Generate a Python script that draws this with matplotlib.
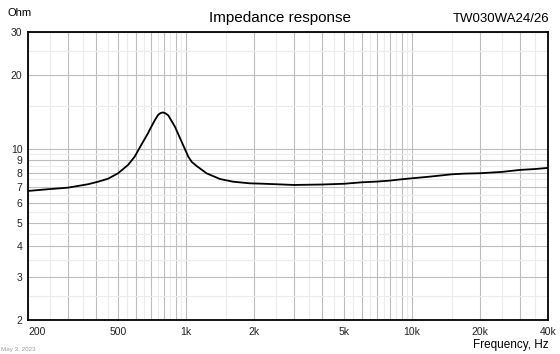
import matplotlib
matplotlib.use("Agg")
import matplotlib.pyplot as plt
from matplotlib.ticker import FixedLocator, NullFormatter

plt.rcParams["font.family"] = ["Liberation Sans", "DejaVu Sans"]

# impedance curve (Hz, Ohm)
freq = [200, 245, 300, 369, 408, 452, 500, 554, 593, 634, 679, 693, 729,
        752, 770, 789, 810, 835, 894, 957, 1024, 1060, 1115, 1235, 1415,
        1619, 1920, 2126, 2500, 3000, 4000, 5000, 6000, 7000, 8000, 9000,
        10000, 12000, 15000, 17000, 20000, 25000, 30000, 35000, 40000]
impedance = [6.73, 6.84, 6.94, 7.17, 7.34, 7.55, 7.94, 8.59, 9.29, 10.37,
             11.57, 12.02, 13.11, 13.74, 13.98, 14.08, 13.98, 13.7, 12.31,
             10.69, 9.29, 8.85, 8.51, 7.94, 7.53, 7.34, 7.23, 7.21, 7.17,
             7.12, 7.15, 7.2, 7.3, 7.35, 7.42, 7.51, 7.58, 7.7, 7.87, 7.92,
             7.95, 8.05, 8.2, 8.27, 8.36]

x_ticks = [200, 500, 1000, 2000, 5000, 10000, 20000, 40000]
x_labels = ["200", "500", "1k", "2k", "5k", "10k", "20k", "40k"]
y_ticks = [2, 3, 4, 5, 6, 7, 8, 9, 10, 20, 30]
y_labels = [str(v) for v in y_ticks]

# grid positions: 1..9 per decade, light lines at the half steps
x_major = [m * d for d in (100, 1000, 10000) for m in range(1, 10) if 200 <= m * d <= 40000]
x_minor = [(m + 0.5) * d for d in (100, 1000, 10000) for m in range(1, 10) if 200 <= (m + 0.5) * d < 40000]
y_major = [m * d for d in (1, 10) for m in range(1, 10) if 2 <= m * d <= 30]
y_minor = [(m + 0.5) * d for d in (1, 10) for m in range(1, 10) if 2 <= (m + 0.5) * d < 30]

fig = plt.figure(figsize=(5.6, 3.54), dpi=100)
ax = fig.add_axes([28 / 560, 34 / 354, 520 / 560, 288 / 354])

ax.set_xscale("log")
ax.set_yscale("log")
ax.set_xlim(200, 40000)
ax.set_ylim(2, 30)

ax.xaxis.set_major_locator(FixedLocator(x_major))
ax.xaxis.set_minor_locator(FixedLocator(x_minor))
ax.yaxis.set_major_locator(FixedLocator(y_major))
ax.yaxis.set_minor_locator(FixedLocator(y_minor))
ax.set_xticklabels([x_labels[x_ticks.index(v)] if v in x_ticks else "" for v in x_major])
ax.set_yticklabels([y_labels[y_ticks.index(v)] if v in y_ticks else "" for v in y_major])
ax.xaxis.set_minor_formatter(NullFormatter())
ax.yaxis.set_minor_formatter(NullFormatter())

ax.grid(True, which="major", color="#bdbdbd", linewidth=0.8)
ax.grid(True, which="minor", color="#ebebeb", linewidth=0.8)
ax.set_axisbelow(True)

ax.tick_params(which="both", length=0)
ax.tick_params(axis="x", pad=5, labelsize=7.5, labelcolor="#222222")
ax.tick_params(axis="y", pad=4, labelsize=7.5, labelcolor="#222222")
ax.get_xticklabels()[0].set_ha("left")

for s in ax.spines.values():
    s.set_linewidth(1.3)
    s.set_color("black")

ax.plot(freq, impedance, color="black", linewidth=1.3)

fig.text(8 / 560, 1 - 13 / 354, "Ohm", fontsize=8, va="center", ha="left")
fig.text(280 / 560, 1 - 18 / 354, "Impedance response", fontsize=11, va="center", ha="center")
fig.text(549 / 560, 1 - 19 / 354, "TW030WA24/26", fontsize=9.5, va="center", ha="right")
fig.text(549 / 560, 1 - 345 / 354, "Frequency, Hz", fontsize=8.5, va="center", ha="right")
fig.text(1 / 560, 1 - 349 / 354, "May 3, 2023", fontsize=4.5, va="center", ha="left", color="#999999")

fig.savefig("out.png", dpi=100)
